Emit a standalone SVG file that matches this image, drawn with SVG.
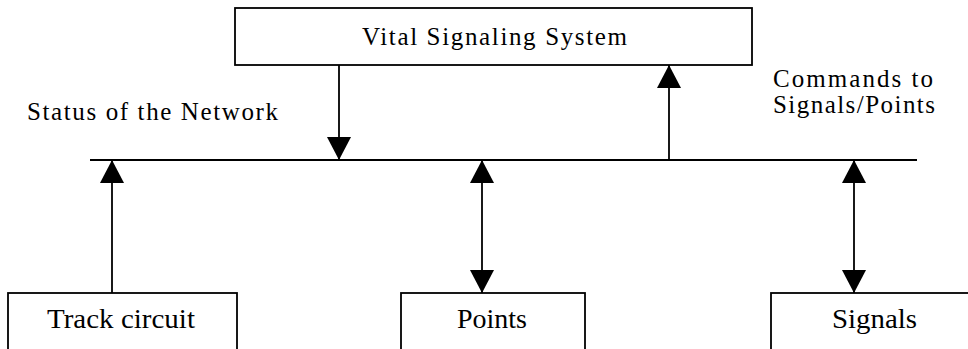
<svg xmlns="http://www.w3.org/2000/svg" width="968" height="349" viewBox="0 0 968 349">
<style>
.box{fill:#fff;stroke:#000;stroke-width:1.8}
.ln{stroke:#000;stroke-width:1.8;fill:none}
</style>
<defs>
<marker id="ah" markerUnits="userSpaceOnUse" markerWidth="24" markerHeight="24" viewBox="0 0 22 22" refX="21" refY="11" orient="auto-start-reverse">
<path d="M0,0 L21,11 L0,22 Z" fill="#000"/>
</marker>
</defs>
<rect width="968" height="349" fill="#fff"/>
<g id="connectors">
<line class="ln" x1="90" y1="160" x2="917" y2="160"/>
<line class="ln" x1="339" y1="65" x2="339" y2="160" marker-end="url(#ah)"/>
<line class="ln" x1="669" y1="160" x2="669" y2="65" marker-end="url(#ah)"/>
<line class="ln" x1="112" y1="293" x2="112" y2="160" marker-end="url(#ah)"/>
<line class="ln" x1="482" y1="160" x2="482" y2="293" marker-start="url(#ah)" marker-end="url(#ah)"/>
<line class="ln" x1="854" y1="160" x2="854" y2="293" marker-start="url(#ah)" marker-end="url(#ah)"/>
</g>
<g font-family="'Liberation Serif', 'Noto Serif', 'FreeSerif', 'Times', serif" fill="#000">
<g id="vital">
<rect class="box" x="235" y="8" width="517" height="57"/>
<text x="362" y="45" font-size="25" textLength="265" lengthAdjust="spacing">Vital Signaling System</text>
</g>
<g id="label-status">
<text x="27" y="120" font-size="25" textLength="251" lengthAdjust="spacing">Status of the Network</text>
</g>
<g id="label-commands">
<text x="773" y="87" font-size="25" textLength="160" lengthAdjust="spacing">Commands to</text>
<text x="773" y="113" font-size="25" textLength="162" lengthAdjust="spacing">Signals/Points</text>
</g>
<g id="track">
<rect class="box" x="8" y="293" width="229" height="60"/>
<text x="47" y="328" font-size="28" textLength="148" lengthAdjust="spacingAndGlyphs">Track circuit</text>
</g>
<g id="points">
<rect class="box" x="401" y="293" width="184" height="60"/>
<text x="457" y="328" font-size="28" textLength="70" lengthAdjust="spacingAndGlyphs">Points</text>
</g>
<g id="signals">
<rect class="box" x="771" y="293" width="210" height="60"/>
<text x="832" y="328" font-size="28" textLength="85" lengthAdjust="spacingAndGlyphs">Signals</text>
</g>
</g>
</svg>
